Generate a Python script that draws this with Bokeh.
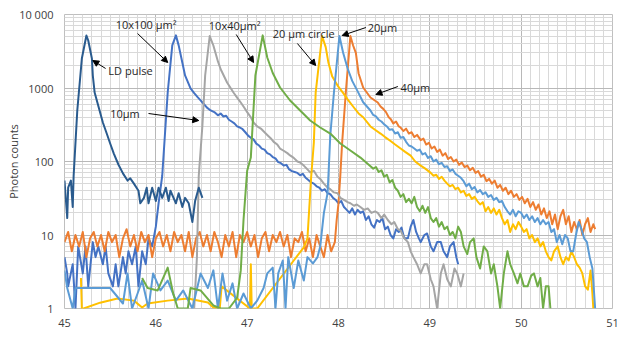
from bokeh.plotting import figure
from bokeh.models import FixedTicker, Label, Arrow, NormalHead
from bokeh.embed import file_html
from bokeh.resources import INLINE

# ---------------- data (time in ns, photon counts) ----------------
X_TICKS = [45, 46, 47, 48, 49, 50, 51]
X_TICK_LABELS = ["45", "46", "47", "48", "49", "50", "51"]
Y_TICKS = [1, 10, 100, 1000, 10000]
Y_TICK_LABELS = ["1", "10", "100", "1000", "10 000"]

LD_PULSE = [(45.00,55),(45.01,37),(45.03,17),(45.04,44),(45.07,55),(45.09,24),(45.10,64),(45.14,494),
    (45.19,2520),(45.24,5180),(45.26,4426),(45.30,2520),(45.31,1479),(45.33,868),(45.36,635),(45.42,339),
    (45.47,226),(45.50,176),(45.54,128),(45.59,91),(45.64,69),(45.69,55),(45.72,59),(45.76,50),(45.81,40),
    (45.83,27),(45.87,32),(45.90,44),(45.92,27),(45.96,44),(46.00,29),(46.03,44),(46.07,32),(46.11,44),
    (46.14,29),(46.16,40),(46.22,27),(46.25,37),(46.29,24),(46.32,32),(46.36,27),(46.40,15),(46.43,29),
    (46.47,44),(46.51,32)]

S_10x100 = [(45.00,5),(45.03,3),(45.04,2),(45.09,4),(45.12,1),(45.15,7),(45.20,3),(45.23,7),(45.26,2),
    (45.31,8),(45.34,5),(45.37,7),(45.42,4),(45.45,7),(45.48,3),(45.53,2),(45.56,4),(45.59,2),(45.64,5),
    (45.67,3),(45.70,6),(45.74,4),(45.78,7),(45.81,2),(45.85,6),(45.89,4),(45.92,9),(45.96,7),(46.00,13),
    (46.03,27),(46.07,64),(46.13,868),(46.18,3800),(46.22,5200),(46.25,3800),(46.29,2220),(46.32,1480),
    (46.38,985),(46.42,850),(46.46,745),(46.49,680),(46.52,615),(46.56,540),(46.60,495),(46.64,470),
    (46.68,425),(46.71,450),(46.74,410),(46.77,420),(46.80,370),(46.83,350),(46.86,330),(46.89,300),
    (46.92,290),(46.95,275),(46.98,250),(47.01,225),(47.04,210),(47.07,200),(47.10,175),(47.13,165),
    (47.16,150),(47.19,145),(47.22,130),(47.25,125),(47.28,115),(47.31,110),(47.34,98),(47.37,95),
    (47.40,88),(47.43,90),(47.46,78),(47.49,74),(47.52,72),(47.55,70),(47.58,65),(47.61,68),(47.64,60),
    (47.67,56),(47.70,52),(47.73,50),(47.76,46),(47.79,44),(47.82,40),(47.85,42),(47.88,37),(47.91,36),
    (47.94,32),(47.97,30),(48.00,27),(48.03,29),(48.06,24),(48.09,22),(48.12,20),(48.15,23),(48.18,19),
    (48.21,22),(48.24,20),(48.27,21),(48.30,16),(48.33,18),(48.36,14),(48.39,12.6),(48.42,16),(48.45,15),
    (48.48,17),(48.51,12),(48.54,13),(48.57,10),(48.60,9),(48.63,12),(48.66,11),(48.69,12.6),(48.72,9),
    (48.76,9),(48.79,13),(48.82,16),(48.85,11),(48.88,9),(48.90,8),(48.94,10),(48.97,10.5),(49.01,7),
    (49.04,6),(49.08,8),(49.12,8),(49.15,6),(49.19,5),(49.22,7),(49.26,8),(49.29,5),(49.31,4)]

S_40 = [(45.00,8),(45.04,11),(45.08,6),(45.12,10),(45.16,7),(45.20,11),(45.24,5),(45.28,9),(45.32,11),
    (45.36,7),(45.40,10),(45.44,6),(45.48,11),(45.52,8),(45.56,10),(45.60,5),(45.64,9),(45.68,12),(45.72,7),
    (45.76,10),(45.80,6),(45.84,11),(45.88,8),(45.92,10),(45.96,5),(46.00,9),(46.04,11),(46.08,7),(46.12,10),
    (46.16,6),(46.20,11),(46.24,8),(46.28,10),(46.32,6),(46.36,11),(46.40,5),(46.44,9),(46.48,11),(46.52,7),
    (46.56,10),(46.60,6),(46.64,11),(46.68,8),(46.72,5),(46.76,10),(46.80,7),(46.84,11),(46.88,5),(46.92,10),
    (46.96,8),(47.00,11),(47.04,7),(47.08,10),(47.12,5),(47.16,9),(47.20,11),(47.24,6),(47.28,10),(47.32,8),
    (47.36,11),(47.40,7),(47.44,10),(47.48,5),(47.52,9),(47.56,8),(47.60,11),(47.64,6),(47.68,9),(47.72,5),
    (47.76,10),(47.80,7),(47.84,5),(47.88,10),(47.92,6),(47.96,8),(47.98,16),(48.00,27),(48.02,65),
    (48.04,181),(48.08,868),(48.13,5100),(48.16,3786),(48.19,3000),(48.22,1575),(48.27,1016),(48.35,743),
    (48.43,635),(48.46,560),(48.49,520),(48.52,470),(48.55,400),(48.57,380),(48.60,330),(48.63,350),
    (48.66,300),(48.68,290),(48.71,260),(48.74,280),(48.77,240),(48.80,250),(48.83,215),(48.86,230),
    (48.90,195),(48.93,205),(48.96,170),(48.99,180),(49.02,150),(49.05,160),(49.08,135),(49.11,145),
    (49.14,120),(49.17,130),(49.20,108),(49.23,115),(49.26,100),(49.29,106),(49.32,90),(49.35,97),
    (49.38,84),(49.41,88),(49.44,76),(49.47,82),(49.50,70),(49.53,74),(49.56,62),(49.59,66),(49.62,54),
    (49.65,58),(49.68,50),(49.71,55),(49.74,44),(49.77,48),(49.80,40),(49.83,44),(49.86,36),(49.89,40),
    (49.92,33),(49.95,36),(49.98,30),(50.01,33),(50.04,27),(50.07,31),(50.10,24),(50.13,28),(50.16,22),
    (50.19,26),(50.22,19),(50.25,23),(50.28,17),(50.31,21),(50.34,14),(50.37,19),(50.40,12),(50.43,18),
    (50.46,22),(50.49,14),(50.52,18),(50.55,11),(50.58,15),(50.61,12),(50.64,16),(50.67,10),(50.70,14),
    (50.73,17),(50.76,11),(50.79,14),(50.81,12)]

S_10 = [(46.42,1),(46.45,5),(46.47,64),(46.51,309),(46.54,1479),(46.59,5100),(46.63,3786),(46.68,2300),
    (46.71,1800),(46.78,1188),(46.85,868),(46.89,740),(46.93,635),(46.96,560),(47.00,470),(47.04,400),
    (47.07,339),(47.11,300),(47.15,281),(47.19,250),(47.22,230),(47.26,206),(47.29,185),(47.33,170),
    (47.36,150),(47.40,140),(47.44,130),(47.47,121),(47.51,112),(47.55,100),(47.58,97),(47.62,88),
    (47.66,78),(47.69,71),(47.73,75),(47.77,62),(47.80,58),(47.84,50),(47.88,44),(47.91,42),(47.95,38),
    (47.99,37),(48.02,32),(48.06,30),(48.10,28),(48.13,27),(48.17,25),(48.20,26),(48.24,24),(48.28,22),
    (48.32,23),(48.36,20),(48.40,21),(48.43,20),(48.47,17),(48.50,19),(48.54,16),(48.58,14),(48.61,15),
    (48.65,12),(48.68,11.5),(48.72,9),(48.76,8),(48.79,6),(48.82,5),(48.86,4),(48.90,3),(48.94,4),
    (48.97,4),(49.01,2.5),(49.04,2),(49.08,1),(49.12,3),(49.15,4),(49.19,2.5),(49.23,2),(49.27,3.5),
    (49.30,3),(49.34,2),(49.37,3)]

S_20_CIRCLE = [(45.18,2.6),(45.19,1),(45.21,1),(45.39,1.2),(45.58,1.37),(45.76,1.28),(45.85,1.03),
    (45.91,1.17),(46.13,1.28),(46.35,1.37),(46.57,1.21),(46.63,1.03),(46.70,1),(46.72,2),(47.03,1),
    (47.04,4),(47.05,1),(47.11,1),(47.51,4.5),(47.62,6.8),(47.66,9),(47.70,60),(47.73,181),(47.75,868),
    (47.82,5100),(47.86,3600),(47.89,2200),(47.93,1450),(47.99,1080),(48.05,860),(48.10,700),(48.16,560),
    (48.22,450),(48.27,400),(48.35,300),(48.40,270),(48.46,240),(48.51,215),(48.57,190),(48.62,170),
    (48.68,150),(48.73,135),(48.79,120),(48.84,100),(48.90,88),(48.95,80),(49.01,70),(49.04,64),
    (49.07,66),(49.10,58),(49.13,62),(49.16,55),(49.19,50),(49.22,46),(49.25,48),(49.28,42),(49.31,44),
    (49.34,38),(49.37,40),(49.40,34),(49.43,36),(49.46,31),(49.49,33),(49.52,29),(49.55,26),(49.58,28),
    (49.61,21),(49.64,24),(49.67,20),(49.70,23),(49.73,19),(49.76,22),(49.79,17),(49.82,14),(49.85,16),
    (49.88,11),(49.91,14),(49.94,12),(49.97,15),(50.00,13),(50.03,11),(50.06,12),(50.09,9),(50.12,10),
    (50.15,8),(50.18,9),(50.21,7),(50.24,8),(50.27,6),(50.30,5),(50.33,4.5),(50.36,6),(50.40,7),
    (50.43,5),(50.46,4),(50.49,5),(50.52,4.5),(50.55,6),(50.58,5),(50.61,4),(50.64,3.6),(50.67,3),
    (50.70,2),(50.73,1.8),(50.76,3.3),(50.78,1.6),(50.79,1)]

S_20 = [(45.00,3.3),(45.03,1.9),(45.09,1),(45.12,1.9),(45.39,1.9),(45.50,1.9),(45.64,1.17),(45.69,3),
    (45.74,1),(45.80,1.6),(45.85,2.4),(45.92,1),(45.97,3),(46.05,1.76),(46.13,2.4),(46.22,1.28),
    (46.30,1.76),(46.40,1),(46.49,3),(46.57,1.9),(46.63,3.3),(46.68,1),(46.73,3),(46.78,1.28),(46.84,2.2),
    (46.89,1),(46.96,1.6),(47.04,1),(47.11,1.28),(47.18,1.9),(47.22,3),(47.28,3.6),(47.31,1),(47.34,3),
    (47.39,4.5),(47.42,1),(47.45,5),(47.51,1.9),(47.56,4.5),(47.62,2.4),(47.66,5),(47.72,4.1),(47.77,5),
    (47.80,7),(47.84,20),(47.88,37),(47.89,65),(47.91,226),(47.95,868),(48.01,5100),(48.05,3040),
    (48.10,1843),(48.15,1250),(48.21,900),(48.27,640),(48.35,494),(48.38,430),(48.41,410),(48.44,370),
    (48.47,350),(48.50,320),(48.53,300),(48.56,270),(48.59,275),(48.62,240),(48.65,250),(48.68,210),
    (48.71,215),(48.74,185),(48.77,165),(48.80,160),(48.83,150),(48.86,140),(48.89,145),(48.92,125),
    (48.95,130),(48.98,112),(49.01,118),(49.04,100),(49.07,106),(49.10,92),(49.13,96),(49.16,84),
    (49.19,86),(49.22,74),(49.25,78),(49.28,68),(49.31,64),(49.34,60),(49.37,54),(49.40,46),(49.43,50),
    (49.46,42),(49.49,45),(49.52,38),(49.55,41),(49.58,36),(49.61,38),(49.64,33),(49.67,35),(49.70,30),
    (49.73,32),(49.76,28),(49.79,29),(49.82,24),(49.85,21),(49.88,19),(49.91,22),(49.94,18),(49.97,21),
    (50.00,20),(50.03,17),(50.06,19),(50.09,16),(50.12,18),(50.15,15),(50.18,17),(50.21,14),(50.24,16),
    (50.27,14),(50.30,15),(50.33,11),(50.36,12),(50.39,8),(50.42,10),(50.45,7.5),(50.48,10),(50.51,9),
    (50.54,6),(50.57,6),(50.60,10),(50.63,15),(50.66,12),(50.69,9),(50.72,8),(50.75,5),(50.78,3.5),
    (50.81,1)]

S_10x40 = [(45.85,2.6),(45.91,1.9),(46.02,1.76),(46.13,3.6),(46.19,1.6),(46.24,1),(46.35,1),(46.38,1.9),
    (46.49,1.76),(46.63,1.1),(46.71,1),(46.80,1),(46.89,1.4),(46.93,3.3),(46.96,16),(47.00,75),(47.04,113),
    (47.09,1479),(47.17,5200),(47.22,2600),(47.28,1600),(47.36,1016),(47.47,676),(47.58,494),(47.69,361),
    (47.80,290),(47.91,240),(48.02,176),(48.13,141),(48.24,113),(48.35,86),(48.38,80),(48.41,84),
    (48.44,72),(48.47,76),(48.50,62),(48.53,66),(48.56,52),(48.59,56),(48.62,44),(48.65,40),(48.68,33),
    (48.71,36),(48.74,28),(48.77,31),(48.80,27),(48.83,33),(48.86,24),(48.89,21),(48.92,25),(48.95,20),
    (48.98,24),(49.01,17),(49.04,15),(49.07,17),(49.10,13),(49.13,15),(49.16,12),(49.19,13),(49.22,10),
    (49.25,11),(49.28,9),(49.31,13),(49.34,11),(49.37,7),(49.41,5.5),(49.44,8),(49.48,9),(49.51,5),
    (49.55,3.5),(49.59,7),(49.63,6),(49.67,3),(49.70,4),(49.74,2),(49.77,1),(49.81,3),(49.85,6),
    (49.88,4),(49.92,3),(49.96,2.2),(49.99,3),(50.03,2),(50.07,2),(50.11,2.8),(50.14,3),(50.18,2),
    (50.21,2.6),(50.24,1),(50.27,2),(50.30,2),(50.32,1)]

# series drawn in Excel order (last on top)
SERIES = [
    ("10x100 um2", S_10x100, "#4472C4"),
    ("40 um", S_40, "#ED7D31"),
    ("10 um", S_10, "#A5A5A5"),
    ("20 um circle", S_20_CIRCLE, "#FFC000"),
    ("20 um", S_20, "#5B9BD5"),
    ("10x40 um2", S_10x40, "#70AD47"),
    ("LD pulse", LD_PULSE, "#2A5B8E"),
]

# annotation texts (text, x, y) and arrows (x_start, y_start, x_end, y_end)
LABELS = [
    ("10x100 \u03bcm\u00b2", 45.56, 7300),
    ("LD pulse", 45.48, 1730),
    ("10\u03bcm", 45.50, 450),
    ("10x40\u03bcm\u00b2", 46.58, 7080),
    ("20 \u03bcm circle", 47.28, 5510),
    ("20\u03bcm", 48.32, 6650),
    ("40\u03bcm", 48.68, 1016),
]
ARROWS = [
    (45.80, 5510, 46.13, 2223),
    (45.45, 1843, 45.31, 2366),
    (45.92, 450, 46.47, 361),
    (46.88, 5345, 47.07, 2223),
    (47.55, 4030, 47.75, 2024),
    (48.30, 6650, 48.04, 5180),
    (48.65, 1048, 48.41, 816),
]

FONT = "Open Sans"
TEXT_COLOR = "#404040"

p = figure(width=626, height=339, x_range=(45, 51), y_range=(1, 10000),
           y_axis_type="log", output_backend="svg", toolbar_location=None,
           min_border_left=64, min_border_right=14, min_border_top=14, min_border_bottom=31)
p.background_fill_color = "white"
p.border_fill_color = "white"
p.outline_line_color = "#bfbfbf"

x_minor = [45 + i / 10 for i in range(61) if i % 10]
y_minor = [m * 10 ** e for e in range(4) for m in range(2, 10)]
xt = FixedTicker(ticks=X_TICKS, minor_ticks=x_minor)
yt = FixedTicker(ticks=Y_TICKS, minor_ticks=y_minor)
p.xaxis.ticker = xt
p.yaxis.ticker = yt
p.xgrid.ticker = xt
p.ygrid.ticker = yt
p.xaxis.major_label_overrides = dict(zip(X_TICKS, X_TICK_LABELS))
p.yaxis.major_label_overrides = dict(zip(Y_TICKS, Y_TICK_LABELS))

for g in (p.xgrid, p.ygrid):
    g.grid_line_color = "#b8b8b8"
    g.grid_line_width = 1
    g.minor_grid_line_color = "#d9d9d9"
    g.minor_grid_line_width = 1

for ax in (p.xaxis, p.yaxis):
    ax.axis_line_color = None
    ax.major_tick_line_color = None
    ax.minor_tick_line_color = None
    ax.major_tick_out = 0
    ax.minor_tick_out = 0
    ax.major_label_text_font = FONT
    ax.major_label_text_font_size = "11px"
    ax.major_label_text_color = TEXT_COLOR

p.xaxis.major_label_standoff = 10
p.yaxis.major_label_standoff = 11
p.yaxis.axis_label = "Photon counts"
p.yaxis.axis_label_text_font = FONT
p.yaxis.axis_label_text_font_size = "11px"
p.yaxis.axis_label_text_font_style = "normal"
p.yaxis.axis_label_text_color = TEXT_COLOR
p.yaxis.axis_label_standoff = -5

for name, data, color in SERIES:
    xs = [a for a, _ in data]
    ys = [b for _, b in data]
    p.line(xs, ys, line_color=color, line_width=2, line_join="round")

for (x0, y0, x1, y1) in ARROWS:
    p.add_layout(Arrow(x_start=x0, y_start=y0, x_end=x1, y_end=y1,
                       line_color="black", line_width=1,
                       end=NormalHead(size=6, fill_color="black", line_color="black")))

for (txt, x, y) in LABELS:
    p.add_layout(Label(x=x, y=y, text=txt, text_font=FONT, text_font_size="11px",
                       text_color="#262626", text_baseline="middle", text_align="left"))

open("out.html", "w").write(file_html(p, INLINE))
